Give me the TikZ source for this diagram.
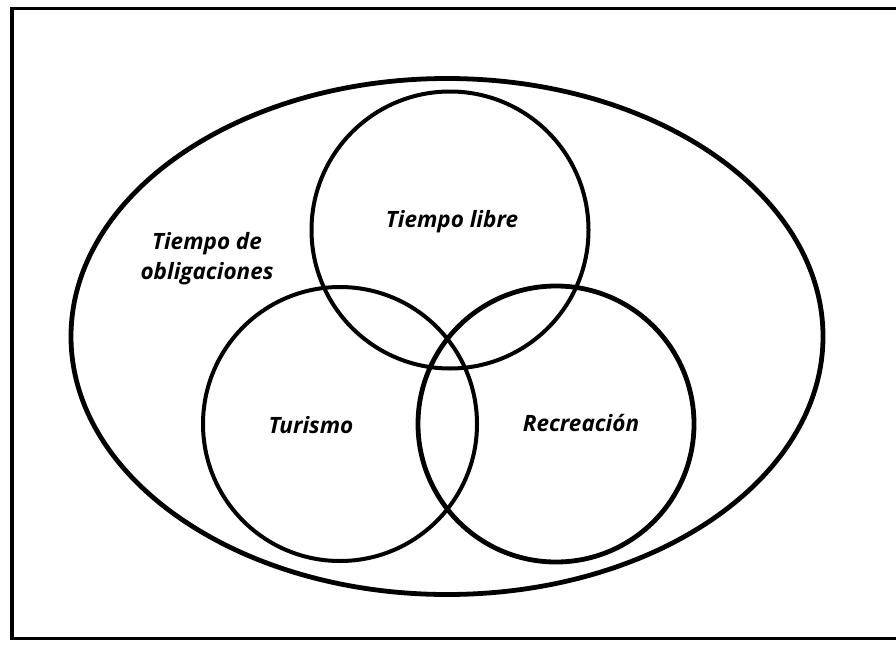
\documentclass[tikz,border=0pt]{standalone}
\usepackage{fontspec}
\setmainfont{Open Sans}
\begin{document}
\begin{tikzpicture}[x=1pt,y=-1pt,
  lbl/.style={font=\fontsize{22.5}{30}\selectfont\bfseries\itshape, align=center, inner sep=0pt},
  ring/.style={draw=black, line width=4pt}]
\useasboundingbox (0,0) rectangle (896,645);
\fill[white] (0,0) rectangle (896,645);
\draw[line width=3.5pt] (12,640) -- (12,8.5) -- (905,8.5);
\draw[line width=3.5pt] (12,638.5) -- (905,638.5);
\draw[line width=4.8pt] (447,336.5) ellipse [x radius=376, y radius=258];
\node[ring, circle, minimum size=277pt, inner sep=0pt] (libre) at (450,230) {};
\node[ring, circle, minimum size=274pt, inner sep=0pt] (tur) at (340,424) {};
\node[ring, line width=4.8pt, circle, minimum size=276pt, inner sep=0pt] (rec) at (556,424) {};
\node[lbl] (tl) at (452,222) {Tiempo libre};
\node[lbl] (to) at (207,259) {Tiempo de\\obligaciones};
\node[lbl] (tt) at (311,425) {Turismo};
\node[lbl] (tr) at (581,423) {Recreación};
\end{tikzpicture}
\end{document}
